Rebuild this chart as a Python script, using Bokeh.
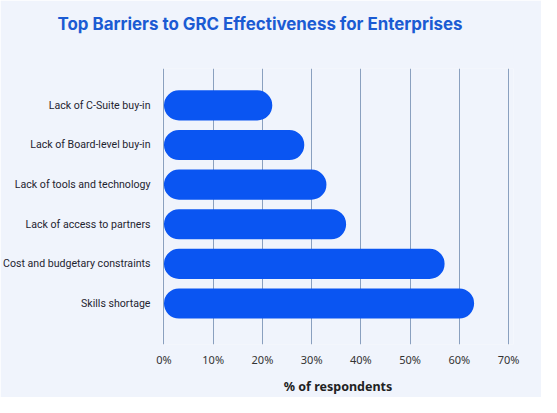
from bokeh.plotting import figure
from bokeh.models import Range1d, FixedTicker, ColumnDataSource, Title
from bokeh.embed import file_html
from bokeh.resources import INLINE

categories = [
    "Lack of C-Suite buy-in",
    "Lack of Board-level buy-in",
    "Lack of tools and technology",
    "Lack of access to partners",
    "Cost and budgetary constraints",
    "Skills shortage",
]
values = [22, 28.5, 33, 37, 57, 63]
x_ticks = [0, 10, 20, 30, 40, 50, 60, 70]
x_tick_labels = ["0%", "10%", "20%", "30%", "40%", "50%", "60%", "70%"]

n = len(categories)
ypos = [n - 1 - i for i in range(n)]

BG = "#f0f4fc"
BAR = "#0a55f2"

p = figure(
    width=541, height=397, output_backend="svg", toolbar_location=None,
    x_range=Range1d(-0.3, 71), y_range=Range1d(-1.035, n - 1 + 0.93),
    min_border_left=162, min_border_right=28, min_border_top=0, min_border_bottom=53,
    background_fill_color=BG, border_fill_color=BG, outline_line_color=None,
)

p.title.text = "Top Barriers to GRC Effectiveness for Enterprises"
p.title.align = "left"
p.title.vertical_align = "top"
p.title.text_font = "Inter"
p.title.text_font_size = "16.9px"
p.title.text_font_style = "bold"
p.title.text_color = "#1b5bd3"
p.title.offset = -105
p.title.standoff = 26

# spacing between the title and the plot area
p.add_layout(Title(text=" ", text_font_size="1px", standoff=17), "above")

src = ColumnDataSource(dict(y=ypos, v=values, cat=categories))
p.hbar(y="y", left=0, right="v", height=0.76, source=src,
       fill_color=BAR, line_color=None, border_radius=15)

p.xaxis.ticker = FixedTicker(ticks=x_ticks)
p.xaxis.major_label_overrides = {t: l for t, l in zip(x_ticks, x_tick_labels)}
p.xaxis.axis_label = "% of respondents"
p.xaxis.axis_label_text_font = "Noto Sans"
p.xaxis.axis_label_text_font_size = "12.5px"
p.xaxis.axis_label_text_font_style = "bold"
p.xaxis.axis_label_text_color = "#222222"
p.xaxis.axis_label_standoff = 8
p.xaxis.major_label_text_font = "Noto Sans"
p.xaxis.major_label_text_font_size = "11px"
p.xaxis.major_label_text_color = "#333333"
p.xaxis.major_label_standoff = 1
p.xaxis.axis_line_color = None
p.xaxis.major_tick_line_color = None
p.xaxis.minor_tick_line_color = None

p.yaxis.ticker = FixedTicker(ticks=ypos)
p.yaxis.major_label_overrides = {y: c for y, c in zip(ypos, categories)}
p.yaxis.major_label_text_font = "Roboto"
p.yaxis.major_label_text_font_size = "10.6px"
p.yaxis.major_label_text_color = "#1f2430"
p.yaxis.major_label_standoff = 6
p.yaxis.axis_line_color = None
p.yaxis.major_tick_line_color = None
p.yaxis.minor_tick_line_color = None

p.xgrid.ticker = FixedTicker(ticks=x_ticks)
p.xgrid.grid_line_color = "#8aa0bf"
p.xgrid.grid_line_width = 1
p.ygrid.grid_line_color = None

open("out.html", "w").write(file_html(p, INLINE))
